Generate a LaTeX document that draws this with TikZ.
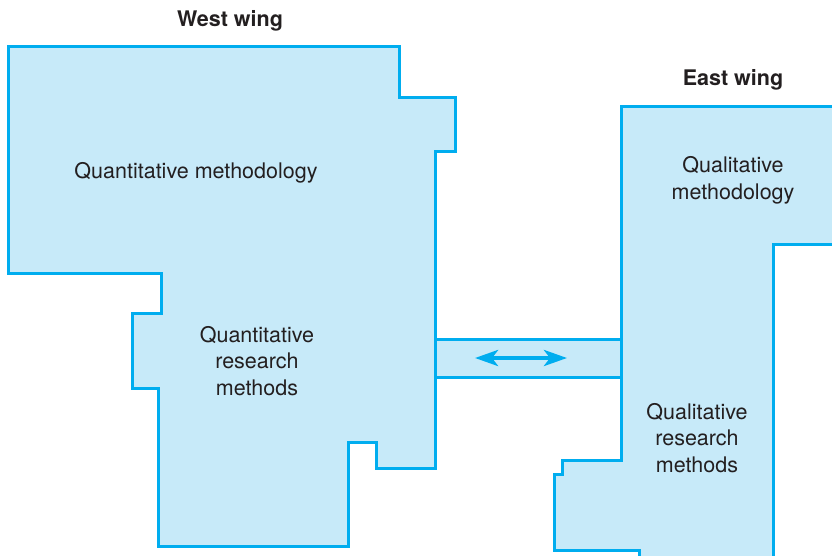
\documentclass[tikz,border=0pt]{standalone}
\usepackage{fontspec}
\setmainfont{TeX Gyre Heros}
\usetikzlibrary{arrows.meta}
\definecolor{wall}{HTML}{00ADEF}
\definecolor{floor}{HTML}{C7EAF9}
\definecolor{ink}{HTML}{231F20}
\tikzset{room/.style = {draw=wall,fill=floor,line width=3pt,line join=miter}}
\tikzset{lbl/.style = {text=ink,font=\fontsize{21.5}{26.5}\selectfont,align=center,inner sep=0pt}}
\tikzset{wing/.style = {lbl,font=\fontsize{21.5}{26.5}\selectfont\bfseries}}

\begin{document}
\begin{tikzpicture}[x=1pt,y=-1pt]
  \useasboundingbox (0,0) rectangle (832,555);
  \clip (0,0) rectangle (832,555);

  % corridor
  \draw[room] (435,339) rectangle (621,377);

  % west wing
  \draw[room] (8,46) -- (399,46) -- (399,97) -- (455,97) -- (455,151) -- (435,151)
     -- (435,468) -- (376,468) -- (376,442) -- (348,442) -- (348,546) -- (158,546)
     -- (158,388) -- (132,388) -- (132,313) -- (161,313) -- (161,273) -- (8,273) -- cycle;

  % east wing
  \draw[room] (621,106) -- (850,106) -- (850,244) -- (773,244) -- (773,570)
     -- (639,570) -- (639,550) -- (554,550) -- (554,474) -- (562,474) -- (562,460)
     -- (621,460) -- cycle;

  \node[wing] (west) at (230,20.5) {West wing};
  \node[wing] (east) at (733,79.5) {East wing};

  \node[lbl] (qnm) at (196,172.5) {Quantitative methodology};
  \node[lbl] (qnr) at (257,361) {Quantitative\\research\\methods};
  \node[lbl] (qlm) at (733,180.5) {Qualitative\\methodology};
  \node[lbl] (qlr) at (697,438) {Qualitative\\research\\methods};

  \coordinate (c1) at (475,358);
  \coordinate (c2) at (567,358);
  \draw[wall,line width=4pt,{Stealth[length=23pt,width=16pt,inset=6pt]}-{Stealth[length=23pt,width=16pt,inset=6pt]}] (c1) -- (c2);
\end{tikzpicture}
\end{document}
